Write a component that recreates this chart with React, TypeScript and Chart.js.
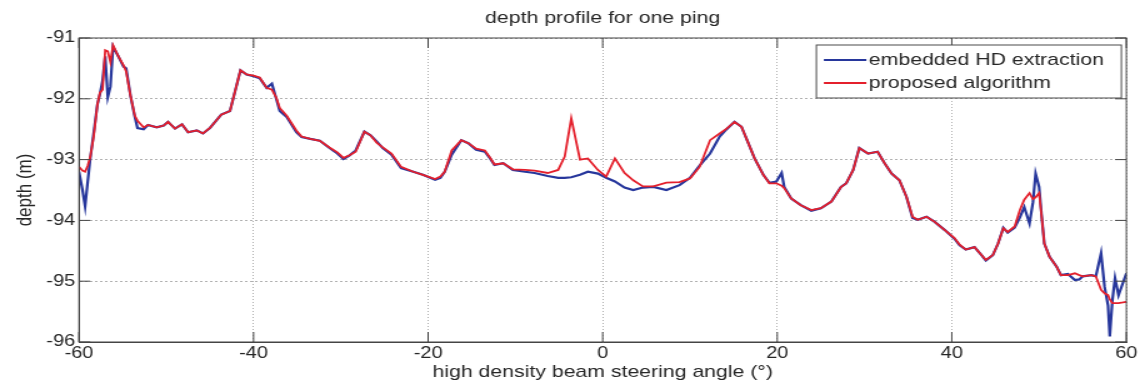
import React, { useEffect, useRef } from "react";
import { Chart, registerables } from "chart.js";

Chart.register(...registerables);

// The reference picture is horizontally stretched; draw at a narrower size and stretch with CSS.
const STRETCH = 1.25;
const PAGE_W = 1140;
const PAGE_H = 385;
const INNER_W = Math.round(PAGE_W / STRETCH);

const titleText = "depth profile for one ping";
const xTitle = "high density beam steering angle (°)";
const yTitle = "depth (m)";
const seriesLabels = ["embedded HD extraction", "proposed algorithm"];
const xTicks = [-60, -40, -20, 0, 20, 40, 60];
const yTicks = [-96, -95, -94, -93, -92, -91];

const angles = [
  -60.0, -59.6, -59.3, -59.0, -58.7, -58.3, -57.9, -57.6, -57.3, -57.0,
  -56.7, -56.4, -56.1, -55.5, -54.9, -54.6, -54.1, -53.6, -53.3, -52.6,
  -52.1, -51.1, -50.3, -49.8, -49.0, -48.2, -47.5, -46.5, -45.8, -45.0,
  -43.7, -42.7, -41.5, -40.8, -40.0, -39.3, -38.5, -37.9, -37.4, -37.0,
  -36.2, -35.1, -34.5, -33.5, -32.4, -31.3, -30.4, -29.7, -29.0, -28.3,
  -27.3, -26.6, -25.9, -25.2, -24.2, -23.1, -21.7, -20.6, -19.2, -18.6,
  -18.1, -17.3, -16.2, -15.4, -14.5, -13.5, -12.9, -12.4, -11.4, -10.3,
  -8.9, -7.8, -6.3, -5.1, -4.35, -3.6, -2.6, -1.7, -0.55, 0.4,
  1.4, 2.5, 3.5, 4.6, 5.8, 7.3, 8.8, 10.0, 11.1, 12.3,
  13.4, 14.2, 15.1, 15.9, 16.6, 17.4, 18.4, 19.1, 19.9, 20.5,
  20.8, 21.6, 22.7, 23.9, 25.0, 26.2, 27.3, 27.9, 28.7, 29.4,
  30.4, 31.5, 32.3, 33.1, 34.0, 34.8, 35.5, 36.1, 37.1, 38.0,
  39.2, 40.3, 40.9, 41.6, 42.6, 43.4, 43.9, 44.7, 45.3, 45.9,
  46.4, 47.2, 47.8, 48.3, 48.9, 49.3, 49.6, 50.0, 50.3, 50.6,
  51.2, 52.0, 52.5, 53.3, 54.1, 54.6, 55.0, 56.0, 56.5, 57.1,
  57.5, 57.9, 58.1, 58.4, 58.7, 59.1, 59.6, 60.0,
];

const depthEmbedded = [
  -93.2, -93.5, -93.77, -93.36, -92.97, -92.55, -92.1, -91.92, -91.7, -91.3,
  -91.97, -91.8, -91.14, -91.3, -91.47, -91.5, -91.95, -92.3, -92.48, -92.5,
  -92.43, -92.47, -92.44, -92.38, -92.49, -92.42, -92.55, -92.52, -92.57, -92.48,
  -92.26, -92.2, -91.53, -91.6, -91.63, -91.66, -91.82, -91.75, -92.0, -92.2,
  -92.3, -92.55, -92.63, -92.66, -92.69, -92.81, -92.9, -92.99, -92.93, -92.85,
  -92.54, -92.6, -92.7, -92.81, -92.92, -93.14, -93.2, -93.25, -93.33, -93.3,
  -93.2, -92.92, -92.68, -92.73, -92.84, -92.87, -92.98, -93.09, -93.06, -93.17,
  -93.2, -93.22, -93.27, -93.3, -93.3, -93.29, -93.25, -93.2, -93.23, -93.3,
  -93.36, -93.46, -93.5, -93.46, -93.45, -93.5, -93.42, -93.3, -93.1, -92.9,
  -92.62, -92.5, -92.38, -92.46, -92.7, -92.98, -93.25, -93.38, -93.36, -93.22,
  -93.45, -93.64, -93.75, -93.84, -93.8, -93.69, -93.45, -93.39, -93.17, -92.81,
  -92.9, -92.87, -93.06, -93.23, -93.34, -93.61, -93.96, -93.99, -93.94, -94.02,
  -94.16, -94.3, -94.41, -94.48, -94.44, -94.57, -94.66, -94.57, -94.38, -94.12,
  -94.2, -94.12, -93.95, -93.78, -94.05, -93.7, -93.23, -93.45, -93.94, -94.38,
  -94.6, -94.76, -94.9, -94.88, -94.98, -94.97, -94.92, -94.9, -94.92, -94.54,
  -95.09, -95.4, -95.91, -95.31, -94.95, -95.23, -95.03, -94.87,
];

const depthProposed = [
  -93.12, -93.18, -93.2, -93.1, -92.95, -92.6, -92.1, -91.9, -91.85, -91.2,
  -91.22, -91.4, -91.12, -91.3, -91.45, -91.55, -91.95, -92.28, -92.36, -92.47,
  -92.43, -92.47, -92.44, -92.38, -92.49, -92.42, -92.55, -92.52, -92.57, -92.48,
  -92.26, -92.2, -91.53, -91.6, -91.62, -91.65, -91.82, -91.85, -91.98, -92.15,
  -92.28, -92.52, -92.62, -92.66, -92.69, -92.8, -92.88, -92.97, -92.93, -92.87,
  -92.54, -92.6, -92.72, -92.8, -92.9, -93.12, -93.2, -93.25, -93.32, -93.28,
  -93.2, -92.85, -92.68, -92.73, -92.82, -92.85, -92.97, -93.08, -93.06, -93.16,
  -93.17, -93.18, -93.22, -93.17, -92.95, -92.32, -93.0, -92.98, -93.17, -93.28,
  -92.98, -93.22, -93.34, -93.44, -93.44, -93.38, -93.37, -93.31, -93.12, -92.68,
  -92.57, -92.49, -92.38, -92.46, -92.7, -92.98, -93.25, -93.39, -93.39, -93.43,
  -93.47, -93.64, -93.75, -93.83, -93.8, -93.69, -93.45, -93.39, -93.17, -92.81,
  -92.9, -92.87, -93.06, -93.23, -93.34, -93.61, -93.94, -93.99, -93.94, -94.02,
  -94.16, -94.29, -94.4, -94.48, -94.44, -94.57, -94.65, -94.57, -94.38, -94.13,
  -94.19, -94.1, -93.83, -93.66, -93.55, -93.65, -93.62, -93.55, -93.94, -94.38,
  -94.6, -94.76, -94.9, -94.9, -94.87, -94.9, -94.92, -94.9, -94.92, -95.14,
  -95.2, -95.23, -95.3, -95.36, -95.36, -95.36, -95.35, -95.34,
];

const BLUE = "#27379c";
const RED = "#e4202c";
const TEXT = "#262626";
const FONT = "'Liberation Sans', Arial, sans-serif";

const framePlugin = {
  id: "matlabFrame",
  afterDraw(chart: any) {
    const { ctx, chartArea: a, scales } = chart;
    ctx.save();
    // title, centred over the axes
    ctx.fillStyle = TEXT;
    ctx.font = `17px ${FONT}`;
    ctx.textAlign = "center";
    ctx.textBaseline = "middle";
    ctx.fillText(titleText, (a.left + a.right) / 2, 18);

    // box
    ctx.strokeStyle = "#454545";
    ctx.lineWidth = 1;
    ctx.strokeRect(a.left, a.top, a.right - a.left, a.bottom - a.top);
    // inward tick marks
    ctx.beginPath();
    for (const v of xTicks) {
      const x = scales.x.getPixelForValue(v);
      ctx.moveTo(x, a.bottom);
      ctx.lineTo(x, a.bottom - 10);
      ctx.moveTo(x, a.top);
      ctx.lineTo(x, a.top + 10);
    }
    for (const v of yTicks) {
      const y = scales.y.getPixelForValue(v);
      ctx.moveTo(a.left, y);
      ctx.lineTo(a.left + 9, y);
      ctx.moveTo(a.right, y);
      ctx.lineTo(a.right - 9, y);
    }
    ctx.stroke();

    // legend
    const boxW = 244;
    const boxH = 53;
    const bx = a.right - 4 - boxW;
    const by = a.top + 7;
    ctx.fillStyle = "#ffffff";
    ctx.fillRect(bx, by, boxW, boxH);
    ctx.strokeStyle = "#4a4a4a";
    ctx.lineWidth = 1;
    ctx.strokeRect(bx, by, boxW, boxH);
    const rows = [by + 15, by + 38];
    chart.data.datasets.forEach((ds: any, i: number) => {
      const y = rows[i];
      ctx.strokeStyle = ds.borderColor;
      ctx.lineWidth = 1.8;
      ctx.beginPath();
      ctx.moveTo(bx + 6, y);
      ctx.lineTo(bx + 40, y);
      ctx.stroke();
      ctx.fillStyle = TEXT;
      ctx.font = `17px ${FONT}`;
      ctx.textBaseline = "middle";
      ctx.textAlign = "left";
      ctx.fillText(ds.label, bx + 42, y);
    });
    ctx.restore();
  },
};

export default function App() {
  const canvasRef = useRef<HTMLCanvasElement | null>(null);

  useEffect(() => {
    const canvas = canvasRef.current;
    if (!canvas) return;
    Chart.defaults.font.family = FONT;
    Chart.defaults.color = TEXT;

    const chart = new Chart(canvas, {
      type: "line",
      data: {
        datasets: [
          {
            label: seriesLabels[0],
            data: angles.map((x, i) => ({ x, y: depthEmbedded[i] })),
            borderColor: BLUE,
            borderWidth: 2.2,
            pointRadius: 0,
            tension: 0,
            order: 1,
          },
          {
            label: seriesLabels[1],
            data: angles.map((x, i) => ({ x, y: depthProposed[i] })),
            borderColor: RED,
            borderWidth: 1.8,
            pointRadius: 0,
            tension: 0,
            order: 0,
          },
        ],
      },
      options: {
        responsive: false,
        devicePixelRatio: 1,
        animation: false,
        layout: { padding: { top: 38, right: 10.4, bottom: 0, left: 0 } },
        plugins: {
          legend: { display: false },
          tooltip: { enabled: false },
          title: { display: false },
        },
        scales: {
          x: {
            type: "linear",
            min: -60,
            max: 60,
            afterFit: (s: any) => {
              s.height = 43;
            },
            ticks: {
              stepSize: 20,
              autoSkip: false,
              maxRotation: 0,
              padding: 2,
              color: TEXT,
              font: { size: 16, family: FONT },
              callback: (v: any) => String(v),
            },
            grid: { color: "rgba(150,150,150,0.75)", lineWidth: 1, drawTicks: false },
            border: { display: true, color: "#454545", width: 1, dash: [1, 2] },
            title: {
              display: true,
              text: xTitle,
              color: TEXT,
              font: { size: 17, family: FONT, lineHeight: 1.2 },
              padding: { top: 0, bottom: 2 },
            },
          },
          y: {
            type: "linear",
            min: -96,
            max: -91,
            afterFit: (s: any) => {
              s.width = 63.2;
            },
            ticks: {
              stepSize: 1,
              autoSkip: false,
              padding: 3,
              color: TEXT,
              font: { size: 16, family: FONT },
              callback: (v: any) => String(v),
            },
            grid: { color: "rgba(150,150,150,0.75)", lineWidth: 1, drawTicks: false },
            border: { display: true, color: "#454545", width: 1, dash: [2, 2] },
            title: {
              display: true,
              text: yTitle,
              color: TEXT,
              font: { size: 17, family: FONT, lineHeight: 1.2 },
              padding: { top: 10, bottom: 0 },
            },
          },
        },
      },
      plugins: [framePlugin],
    });

    return () => {
      chart.destroy();
    };
  }, []);

  return (
    <div
      style={{
        position: "absolute",
        left: 0,
        top: 0,
        width: PAGE_W,
        height: PAGE_H,
        background: "#ffffff",
        overflow: "hidden",
      }}
    >
      <canvas
        ref={canvasRef}
        width={INNER_W}
        height={PAGE_H}
        style={{ width: `${PAGE_W}px`, height: `${PAGE_H}px`, display: "block" }}
      />
    </div>
  );
}
